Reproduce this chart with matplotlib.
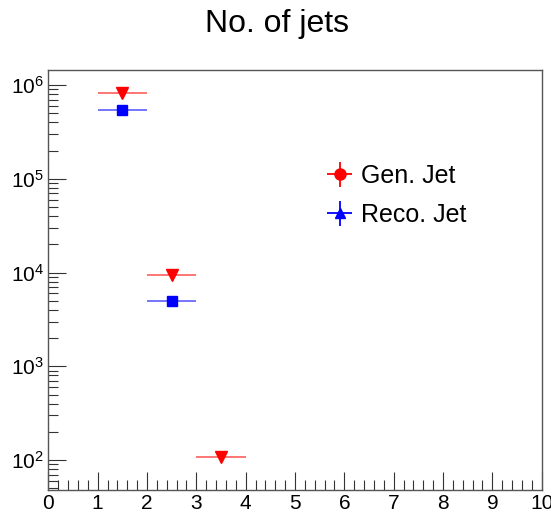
import numpy as np
import matplotlib
matplotlib.use("Agg")
import matplotlib.pyplot as plt
from matplotlib.ticker import MultipleLocator, LogLocator, NullFormatter

plt.rcParams["font.family"] = ["Liberation Sans", "DejaVu Sans"]

# ============================================================
# data
# ============================================================
gen_x = [1.5, 2.5, 3.5]
gen_y = [8.2e5, 9.5e3, 1.07e2]

reco_x = [1.5, 2.5]
reco_y = [5.4e5, 5.0e3]

bin_half = 0.5

# ============================================================
# figure
# ============================================================
fig = plt.figure(figsize=(5.51, 5.14), dpi=100)
ax = fig.add_axes([48.3 / 551, 24 / 514, 493.4 / 551, 420 / 514])

ax.errorbar(gen_x, gen_y, xerr=bin_half, fmt="v", color="red", ecolor="#ff6a6a",
            markersize=8, elinewidth=1.3, capsize=0, zorder=3)
ax.errorbar(reco_x, reco_y, xerr=bin_half, fmt="s", color="blue", ecolor="#6a6aff",
            markersize=7.5, elinewidth=1.3, capsize=0, zorder=3)

# legend uses different markers (as in the original)
h1 = ax.errorbar([], [], xerr=[], yerr=[], fmt="o", color="red", markersize=8,
                 elinewidth=1.3, capsize=0, label="Gen. Jet")
h2 = ax.errorbar([], [], xerr=[], yerr=[], fmt="^", color="blue", markersize=7,
                 elinewidth=1.3, capsize=0, label="Reco. Jet")
ax.legend(handles=[h1, h2], loc="upper left", bbox_to_anchor=(0.52, 0.83),
          frameon=False, fontsize=18, handlelength=1.0, handletextpad=0.35,
          labelspacing=0.6)

ax.set_yscale("log")
ax.set_xlim(0, 10)
ax.set_ylim(48, 1.445e6)

ax.xaxis.set_major_locator(MultipleLocator(1))
ax.xaxis.set_minor_locator(MultipleLocator(0.2))
ax.yaxis.set_major_locator(LogLocator(base=10, numticks=10))
ax.yaxis.set_minor_locator(LogLocator(base=10, subs=np.arange(2, 10), numticks=10))
ax.yaxis.set_minor_formatter(NullFormatter())

ax.tick_params(which="both", direction="in", top=False, right=False,
               labelsize=15, color="#333333")
ax.tick_params(which="major", length=13, width=0.8)
ax.tick_params(which="minor", length=7, width=0.8)
ax.tick_params(axis="x", pad=3)
ax.tick_params(axis="y", pad=3)

for s in ax.spines.values():
    s.set_color("#555555")
    s.set_linewidth(1.0)

fig.text(0.503, 1 - 24 / 514, "No. of jets", ha="center", va="center", fontsize=23)

fig.savefig("out.png", dpi=100)
